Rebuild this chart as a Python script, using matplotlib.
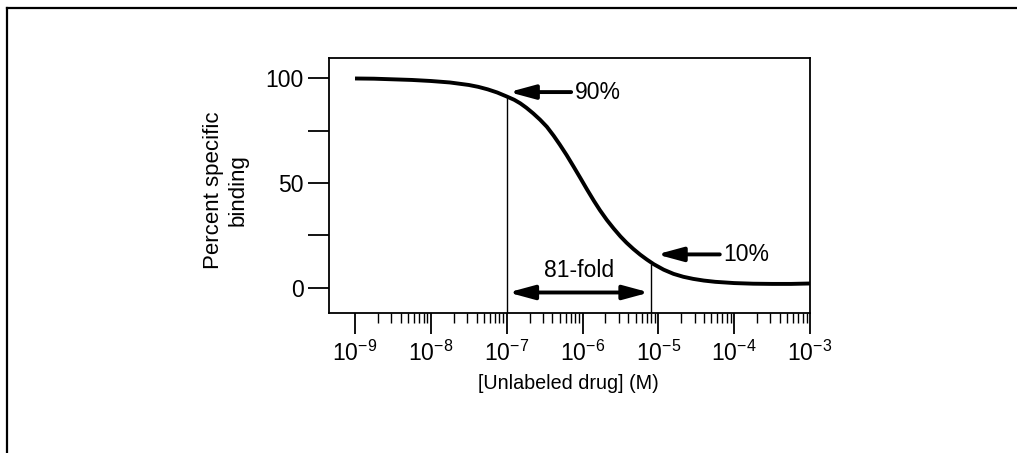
import numpy as np
import matplotlib
matplotlib.use("Agg")
import matplotlib.pyplot as plt
from matplotlib.lines import Line2D
from matplotlib.ticker import FixedLocator, NullFormatter

plt.rcParams['font.family'] = ['Liberation Sans', 'DejaVu Sans']
plt.rcParams['mathtext.fontset'] = 'custom'
plt.rcParams['mathtext.rm'] = 'Liberation Sans'
plt.rcParams['mathtext.it'] = 'Liberation Sans'
plt.rcParams['mathtext.sf'] = 'Liberation Sans'

# ---- data ----
log_conc = [-9.0, -8.75, -8.5, -8.25, -8.0, -7.75, -7.5, -7.375, -7.25, -7.125,
            -7.0, -6.9, -6.82, -6.74, -6.65, -6.56, -6.47, -6.38, -6.30, -6.21,
            -6.12, -6.03, -5.94, -5.85, -5.77, -5.68, -5.59, -5.50, -5.42, -5.33,
            -5.24, -5.15, -5.06, -4.93, -4.80, -4.67, -4.54, -4.40, -4.25, -4.0,
            -3.75, -3.5, -3.25, -3.0]
binding = [100.0, 99.9, 99.6, 99.3, 98.8, 98.1, 96.9, 96.0, 94.8, 93.3,
           91.4, 89.8, 88.1, 86.0, 83.3, 80.3, 76.9, 72.6, 68.4, 63.4,
           58.0, 52.5, 46.9, 41.5, 37.0, 32.4, 28.3, 24.5, 21.5, 18.5,
           15.8, 13.4, 11.2, 8.6, 6.6, 5.2, 4.2, 3.4, 2.8, 2.2,
           1.9, 1.8, 1.8, 2.0]

x_tick_exponents = [-9, -8, -7, -6, -5, -4, -3]
x_tick_labels = [r'10$^{%d}$' % e for e in x_tick_exponents]
y_ticks_major = [0, 50, 100]
y_ticks_minor = [25, 75]

conc90 = 1e-7
conc10 = 8.1e-6
val90 = 91.4
val10 = 11.0
label90 = '90%'
label10 = '10%'
label_fold = '81-fold'

conc = [10.0 ** v for v in log_conc]

FS = 16.5
YMIN, YMAX = -11.9, 109.8

fig = plt.figure(figsize=(10.17, 4.53), dpi=100)
ax = fig.add_axes([0.3235, 0.310, 0.4730, 0.562])

ax.plot(conc, binding, color='black', lw=2.8, solid_capstyle='butt',
        solid_joinstyle='round', zorder=3)
ax.set_xscale('log')
ax.set_xlim(10 ** -9.343, 1e-3)
ax.set_ylim(YMIN, YMAX)

# vertical markers
ax.plot([conc90, conc90], [YMIN, val90], color='black', lw=1.0, zorder=2)
ax.plot([conc10, conc10], [YMIN, val10], color='black', lw=1.0, zorder=2)

arrow_kw = dict(arrowstyle='-|>,head_length=1.55,head_width=0.42', color='black',
                lw=2.8, shrinkA=0, shrinkB=0, mutation_scale=10)
ax.annotate('', xy=(10 ** -6.97, 93.5), xytext=(10 ** -6.15, 93.5), arrowprops=arrow_kw)
ax.text(10 ** -6.10, 93.5, label90, fontsize=FS, va='center', ha='left')
ax.annotate('', xy=(10 ** -5.02, 15.9), xytext=(10 ** -4.19, 15.9), arrowprops=arrow_kw)
ax.text(10 ** -4.15, 15.9, label10, fontsize=FS, va='center', ha='left')
dbl_kw = dict(arrowstyle='<|-|>,head_length=1.55,head_width=0.42', color='black',
              lw=2.8, shrinkA=0, shrinkB=0, mutation_scale=10)
ax.annotate('', xy=(10 ** -6.98, -2.3), xytext=(10 ** -5.12, -2.3), arrowprops=dbl_kw)
ax.text(10 ** -6.05, 8.0, label_fold, fontsize=FS, va='center', ha='center')

# ticks
ax.xaxis.set_major_locator(FixedLocator([10.0 ** e for e in x_tick_exponents]))
ax.set_xticklabels(x_tick_labels)
minors = [m * 10.0 ** e for e in range(-9, -3) for m in range(2, 10)]
ax.xaxis.set_minor_locator(FixedLocator(minors))
ax.xaxis.set_minor_formatter(NullFormatter())
ax.tick_params(axis='x', which='major', direction='out', length=15, width=1.3,
               labelsize=FS, pad=5)
ax.tick_params(axis='x', which='minor', direction='out', length=7.5, width=1.0)
ax.set_yticks(y_ticks_major)
ax.set_yticks(y_ticks_minor, minor=True)
ax.tick_params(axis='y', which='both', direction='out', length=15, width=1.3,
               labelsize=FS, pad=3)

for s in ax.spines.values():
    s.set_linewidth(1.3)

ax.set_xlabel('[Unlabeled drug] (M)', fontsize=14.2, va='center')
ax.xaxis.set_label_coords(0.497, -0.277)
ax.set_ylabel('Percent specific\nbinding', fontsize=16, linespacing=1.2, va='center')
ax.yaxis.set_label_coords(-0.214, 0.481)

# outer frame (top and left edges)
fig.add_artist(Line2D([7 / 1017, 7 / 1017], [0, 1 - 8 / 453], color='black', lw=1.6,
                      transform=fig.transFigure))
fig.add_artist(Line2D([7 / 1017, 1], [1 - 8 / 453, 1 - 8 / 453], color='black', lw=1.6,
                      transform=fig.transFigure))

fig.savefig('out.png', dpi=100)
